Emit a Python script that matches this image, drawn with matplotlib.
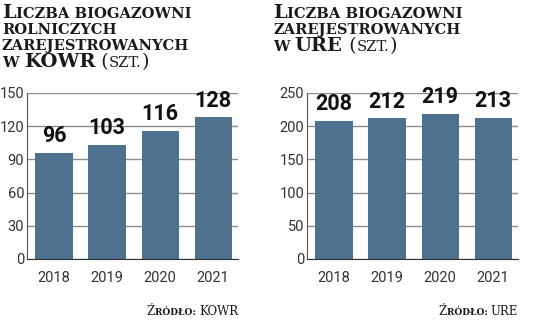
import matplotlib
matplotlib.use("Agg")
import matplotlib.pyplot as plt

years = ["2018", "2019", "2020", "2021"]
kowr_values = [96, 103, 116, 128]
ure_values = [208, 212, 219, 213]
kowr_ticks = [0, 30, 60, 90, 120, 150]
ure_ticks = [0, 50, 100, 150, 200, 250]

BAR_COLOR = "#4e7190"
GRID_COLOR = "#8c8c8c"
TICK_COLOR = "#333333"
TEXT_COLOR = "#1a1a1a"
SERIF = "DejaVu Serif"
SANS = "Roboto"
W, H = 536, 323

fig = plt.figure(figsize=(W / 100, H / 100), dpi=100)
renderer = fig.canvas.get_renderer()


def draw_panel(rect, values, ticks):
    ax = fig.add_axes(rect)
    x = range(len(values))
    ax.bar(x, values, width=0.7, color=BAR_COLOR, zorder=2)
    ax.set_xlim(-0.51, 3.47)
    ax.set_ylim(ticks[0], ticks[-1])
    ax.set_yticks(ticks)
    ax.set_xticks(list(x))
    ax.set_xticklabels(years)
    ax.grid(axis="y", color=GRID_COLOR, linewidth=1.0, zorder=0)
    ax.set_axisbelow(True)
    for side in ["top", "right"]:
        ax.spines[side].set_visible(False)
    ax.spines["left"].set_color("#555555")
    ax.spines["bottom"].set_color("#333333")
    ax.tick_params(length=0, labelsize=10.5, labelcolor=TICK_COLOR, pad=2)
    ax.tick_params(axis="x", pad=9)
    for lab in ax.get_xticklabels() + ax.get_yticklabels():
        lab.set_family(SANS)
    for i, v in enumerate(values):
        ax.annotate(str(v), (i, v), xytext=(0, 4), textcoords="offset points",
                    ha="center", va="bottom", fontsize=15.5, fontweight="bold",
                    family=SANS, color="#111111")
    return ax


def make_text(x_px, base_y_px, text, size, weight):
    return fig.text(x_px / W, 1 - base_y_px / H, text, fontsize=size,
                    fontweight=weight, family=SERIF, color=TEXT_COLOR,
                    va="baseline", ha="left")


def chain(x_px, base_y_px, parts):
    # small-caps imitation: pieces of different sizes on one baseline
    x = x_px
    for text, size, weight in parts:
        t = make_text(x, base_y_px, text, size, weight)
        x = t.get_window_extent(renderer).x1
    return x


def chain_right(x_right_px, base_y_px, parts):
    # measure first, then shift so the line ends at x_right_px
    texts = []
    x = 0
    for text, size, weight in parts:
        t = make_text(x, base_y_px, text, size, weight)
        x = t.get_window_extent(renderer).x1
        texts.append(t)
    shift = x_right_px - x
    for t in texts:
        px, py = t.get_position()
        t.set_position((px + shift / W, py))


draw_panel([27 / W, 64 / H, 211 / W, 166 / H], kowr_values, kowr_ticks)
draw_panel([307 / W, 64 / H, 211 / W, 166 / H], ure_values, ure_ticks)

S = 10.6   # small caps size
B = 14.0   # capital size

# left title
chain(2, 18, [("L", B, "bold"), ("ICZBA BIOGAZOWNI", S, "bold")])
chain(2, 34, [("ROLNICZYCH", S, "bold")])
chain(2, 50, [("ZAREJESTROWANYCH", S, "bold")])
chain(2, 67, [("W ", S, "bold"), ("KOWR", B, "bold"), (" (", B, "normal"),
              ("SZT.", S, "normal"), (")", B, "normal")])

# right title
chain(273, 18, [("L", B, "bold"), ("ICZBA BIOGAZOWNI", S, "bold")])
chain(273, 34, [("ZAREJESTROWANYCH", S, "bold")])
chain(273, 51, [("W ", S, "bold"), ("URE", B, "bold"), (" (", B, "normal"),
                ("SZT.", S, "normal"), (")", B, "normal")])

# sources
chain_right(238, 315, [("Ź", 8.5, "normal"), ("RÓDŁO: ", 6.5, "bold"),
                       ("KOWR", 8.5, "normal")])
chain_right(518, 315, [("Ź", 8.5, "normal"), ("RÓDŁO: ", 6.5, "bold"),
                       ("URE", 8.5, "normal")])

fig.savefig("out.png", dpi=100)
